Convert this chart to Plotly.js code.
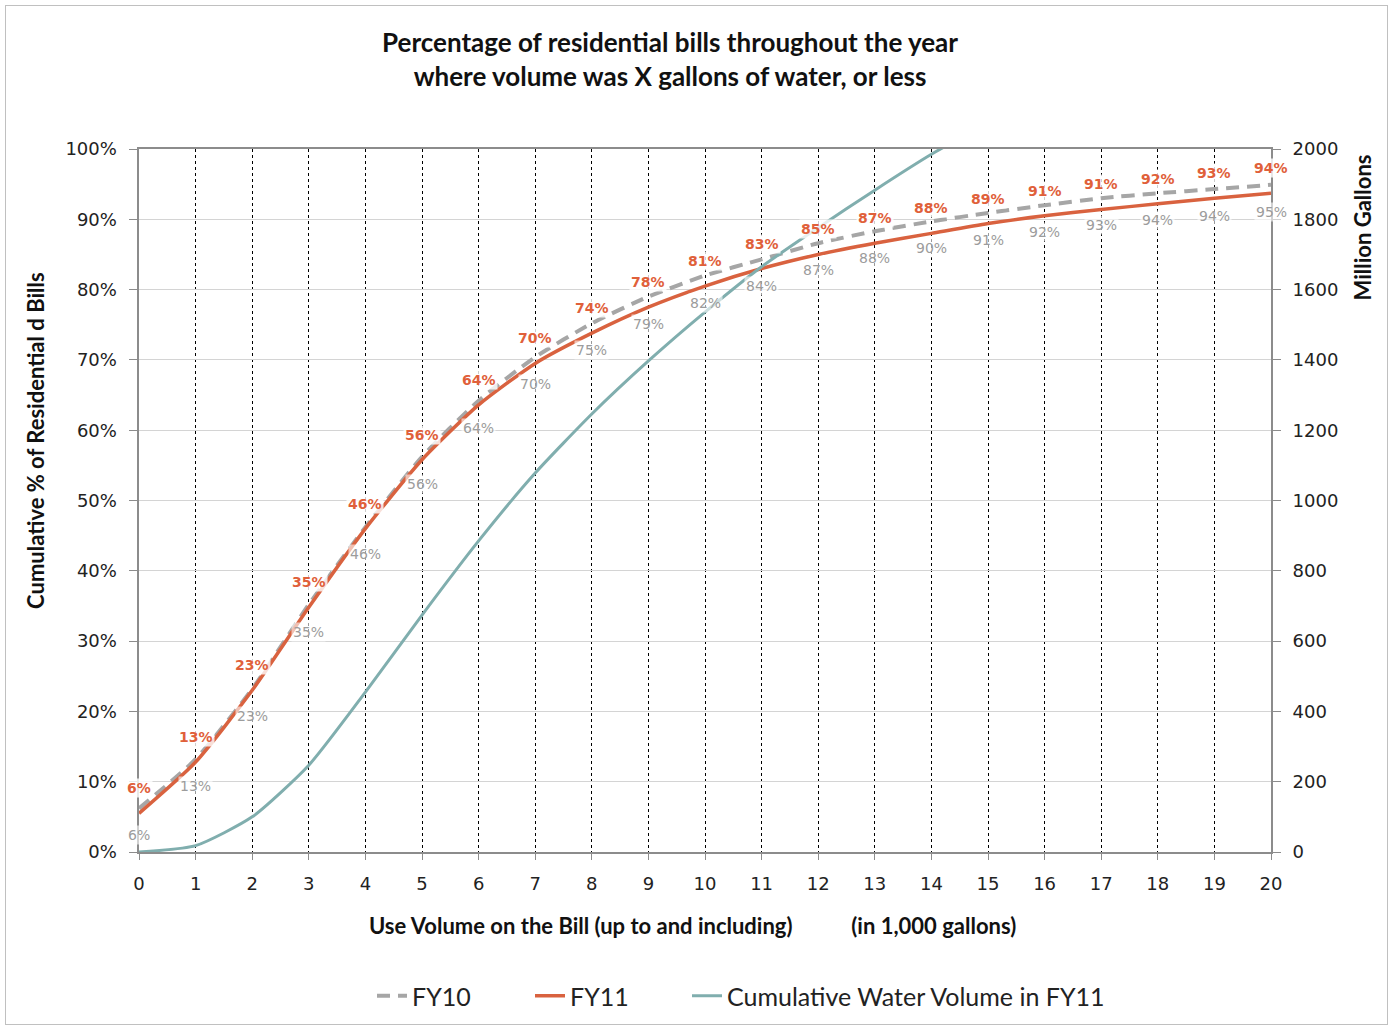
<!DOCTYPE html>
<html><head><meta charset="utf-8">
<script src="https://cdn.plot.ly/plotly-3.0.1.min.js"></script>
<style>
html,body{margin:0;padding:0;background:#fff}
#wrap{position:relative;width:1393px;height:1028px}
#chart{width:1393px;height:1028px}
#frame{position:absolute;left:5px;top:5px;width:1381px;height:1018px;border:1px solid #c0c0c0;pointer-events:none}
</style>
</head><body>
<div id="wrap"><div id="chart"></div><div id="frame"></div></div>
<script>
// Use volume on the bill (thousand gallons)
const usage = [0,1,2,3,4,5,6,7,8,9,10,11,12,13,14,15,16,17,18,19,20];
// Cumulative share of residential bills (fraction)
const fy10 = [0.062,0.132,0.232,0.352,0.462,0.562,0.642,0.704,0.752,0.790,0.820,0.843,0.866,0.883,0.897,0.909,0.920,0.930,0.937,0.943,0.949];
const fy11 = [0.055,0.128,0.230,0.348,0.460,0.558,0.636,0.695,0.738,0.775,0.805,0.830,0.850,0.866,0.880,0.894,0.905,0.914,0.922,0.930,0.937];
// Cumulative water volume in FY11 (million gallons)
const volUsage = [0,1,2,3,4,5,6,7,8,9,10,11,12,13,14,15];
const volume = [0,18,100,247,455,674,885,1078,1246,1397,1536,1665,1776,1883,1985,2075];

const leftTicks = [0,0.1,0.2,0.3,0.4,0.5,0.6,0.7,0.8,0.9,1.0];
const rightTicks = [0,200,400,600,800,1000,1200,1400,1600,1800,2000];

const cRed = '#d9623f', cGray = '#a6a6a6', cTeal = '#80aeae';
const fTick = {family:'DejaVu Sans, Verdana, sans-serif', size:18, color:'#222'};
const fBold = 'Lato, Carlito, Calibri, sans-serif';

const traces = [
  {x:usage, y:fy10, name:'FY10', mode:'lines', legend:'legend', line:{color:cGray, width:4, dash:'13px,8px', shape:'spline', smoothing:0.6}},
  {x:usage, y:fy11, name:'FY11', mode:'lines', legend:'legend2', line:{color:cRed, width:3.5, shape:'spline', smoothing:0.6}},
  {x:volUsage, y:volume, name:'Cumulative Water Volume in FY11', mode:'lines', yaxis:'y2', legend:'legend3', line:{color:cTeal, width:3, shape:'spline', smoothing:0.6}}
];

const annotations = [];
usage.forEach((u,i)=>{
  annotations.push({x:u, y:fy11[i], xref:'x', yref:'y', text:'<b>'+Math.round(fy11[i]*100)+'%</b>', showarrow:false,
    yshift:25, font:{family:'DejaVu Sans, Verdana, sans-serif', size:14, color:'#e0603a'}, bgcolor:'rgba(255,255,255,0.8)', borderpad:1});
  annotations.push({x:u, y:fy10[i], xref:'x', yref:'y', text:Math.round(fy10[i]*100)+'%', showarrow:false,
    yshift:-27, font:{family:'DejaVu Sans, Verdana, sans-serif', size:14, color:'#9c9c9c'}, bgcolor:'rgba(255,255,255,0.6)', borderpad:1});
});
annotations.push({xref:'paper', yref:'paper', x:-0.092, y:0.586, xanchor:'center', yanchor:'middle', textangle:-90, showarrow:false,
  text:'<b>Cumulative % of Residential d Bills</b>', font:{family:fBold, size:22, color:'#111'}});
annotations.push({xref:'paper', yref:'paper', x:1.081, y:0.888, xanchor:'center', yanchor:'middle', textangle:-90, showarrow:false,
  text:'<b>Million Gallons</b>', font:{family:fBold, size:22, color:'#111'}});
annotations.push({xref:'paper', yref:'paper', x:0.489, y:-0.105, xanchor:'center', yanchor:'middle', showarrow:false,
  text:'<b>Use Volume on the Bill (up to and including)\u00a0\u00a0\u00a0\u00a0\u00a0\u00a0\u00a0\u00a0\u00a0\u00a0\u00a0(in 1,000 gallons)</b>', font:{family:fBold, size:22, color:'#111'}});

const legFont = {family:fBold, size:25, color:'#222'};
function leg(xpx){ return {orientation:'h', x:(xpx-139)/1132, xanchor:'left', y:1-996/1028, yref:'container', yanchor:'middle', font:legFont, bgcolor:'rgba(0,0,0,0)'}; }

const layout = {
  width:1393, height:1028,
  margin:{l:139, r:122, t:149, b:176, autoexpand:false},
  paper_bgcolor:'#fff', plot_bgcolor:'#fff',
  showlegend:true,
  title:{text:'<b>Percentage of residential bills throughout the year<br>where volume was X gallons of water, or less</b>',
    x:0.481, xanchor:'center', xref:'container', y:0.949, yanchor:'middle', yref:'container',
    font:{family:fBold, size:26, color:'#111'}},
  xaxis:{range:[0,20], tickvals:usage, ticktext:usage.map(String), tickfont:fTick,
    showgrid:true, gridcolor:'#000', griddash:'dot', gridwidth:1,
    showline:true, linecolor:'#8c8c8c', linewidth:2, mirror:true,
    ticks:'outside', ticklen:6, tickcolor:'#8c8c8c', zeroline:false, ticklabelstandoff:8},
  yaxis:{range:[0,1], tickvals:leftTicks, tickformat:'.0%', tickfont:fTick,
    showgrid:true, gridcolor:'#d4d4d4', gridwidth:1,
    showline:true, linecolor:'#8c8c8c', linewidth:2.5,
    ticks:'outside', ticklen:8, tickcolor:'#8c8c8c', zeroline:false, ticklabelstandoff:8},
  yaxis2:{range:[0,2000], tickvals:rightTicks, overlaying:'y', side:'right', tickfont:fTick,
    showgrid:false, showline:true, linecolor:'#8c8c8c', linewidth:2,
    ticks:'outside', ticklen:8, tickcolor:'#8c8c8c', zeroline:false, ticklabelstandoff:8},
  legend:leg(372), legend2:leg(530), legend3:leg(687),
  annotations:annotations
};
Plotly.newPlot('chart', traces, layout, {displayModeBar:false, staticPlot:true});
</script>
</body></html>
